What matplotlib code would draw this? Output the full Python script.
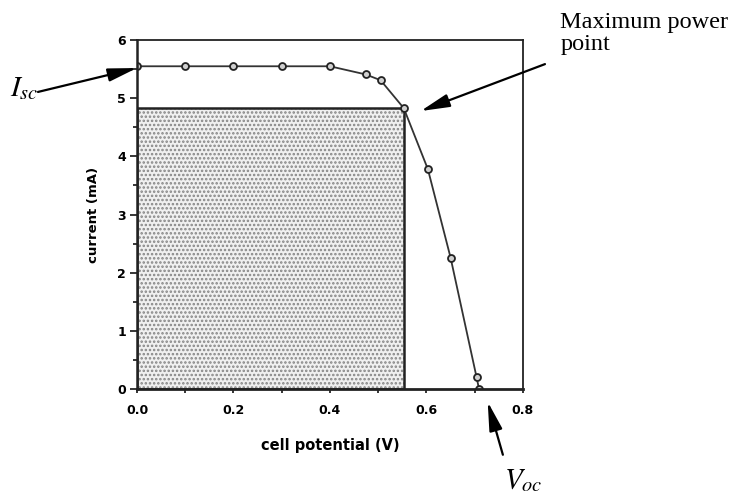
import matplotlib.pyplot as plt
from matplotlib.patches import Rectangle
from matplotlib.ticker import MultipleLocator

plt.rcParams['mathtext.fontset'] = 'stix'
plt.rcParams['hatch.linewidth'] = 1.2

# measured I-V points
potential = [0.0, 0.1, 0.2, 0.3, 0.4, 0.474, 0.505, 0.553, 0.603, 0.65, 0.704, 0.709]
current = [5.55, 5.55, 5.55, 5.55, 5.55, 5.41, 5.31, 4.83, 3.78, 2.26, 0.2, 0.0]

mppV = 0.553
mppI = 4.83

fig = plt.figure(figsize=(7.45, 4.97), dpi=100)
ax = fig.add_axes([0.1839, 0.2173, 0.518, 0.702])

# shaded power rectangle
ax.add_patch(Rectangle((0, 0), mppV, mppI, facecolor='#f0f0f0', edgecolor='#858585',
                       hatch='....', linewidth=0))
ax.add_patch(Rectangle((0, 0), mppV, mppI, fill=False, edgecolor='#222222', linewidth=1.8))

ax.plot(potential, current, color='#333333', linewidth=1.3, marker='o', markersize=5,
        markerfacecolor='#d0d0d0', markeredgecolor='#222222', markeredgewidth=1.3)

ax.set_xlim(0, 0.8)
ax.set_ylim(0, 6)
ax.set_xticks([0, 0.2, 0.4, 0.6, 0.8])
ax.set_xticklabels(['0.0', '0.2', '0.4', '0.6', '0.8'])
ax.xaxis.set_minor_locator(MultipleLocator(0.1))
ax.yaxis.set_major_locator(MultipleLocator(1))
ax.yaxis.set_minor_locator(MultipleLocator(0.5))
ax.tick_params(which='both', direction='out', labelsize=9, width=1.1)
ax.tick_params(axis='x', which='major', length=3, pad=8)
ax.tick_params(axis='y', which='major', length=5, pad=3)
ax.tick_params(which='minor', length=3)
for lbl in ax.get_xticklabels() + ax.get_yticklabels():
    lbl.set_fontweight('bold')
for s in ax.spines.values():
    s.set_linewidth(1.3)
    s.set_color('#222222')
ax.spines['bottom'].set_linewidth(2)
ax.spines['left'].set_linewidth(1.8)

ax.set_xlabel('cell potential (V)', fontsize=10.5, fontweight='bold', labelpad=15)
ax.set_ylabel('current (mA)', fontsize=9.5, fontweight='bold', labelpad=12)

serif = 'Liberation Serif'
arrow = dict(arrowstyle='-|>,head_length=1.1,head_width=0.25', color='black',
             linewidth=1.6, mutation_scale=16, shrinkA=0, shrinkB=0)

ax.annotate('', xy=(0.0, 5.52), xytext=(0.051, 0.815), textcoords='figure fraction',
            arrowprops=arrow, annotation_clip=False)
fig.text(0.014, 0.823, r'$I_{sc}$', fontsize=21, va='center')

ax.annotate('', xy=(0.588, 4.78), xytext=(0.7315, 0.871), textcoords='figure fraction',
            arrowprops=arrow, annotation_clip=False)
fig.text(0.752, 0.975, 'Maximum power\npoint', fontsize=17.5, family=serif,
         va='top', ha='left', linespacing=1.05)

ax.annotate('', xy=(0.727, -0.22), xytext=(0.675, 0.085), textcoords='figure fraction',
            arrowprops=arrow, annotation_clip=False)
fig.text(0.676, 0.006, r'$V_{oc}$', fontsize=21, va='bottom')

fig.savefig('out.png', dpi=100)
